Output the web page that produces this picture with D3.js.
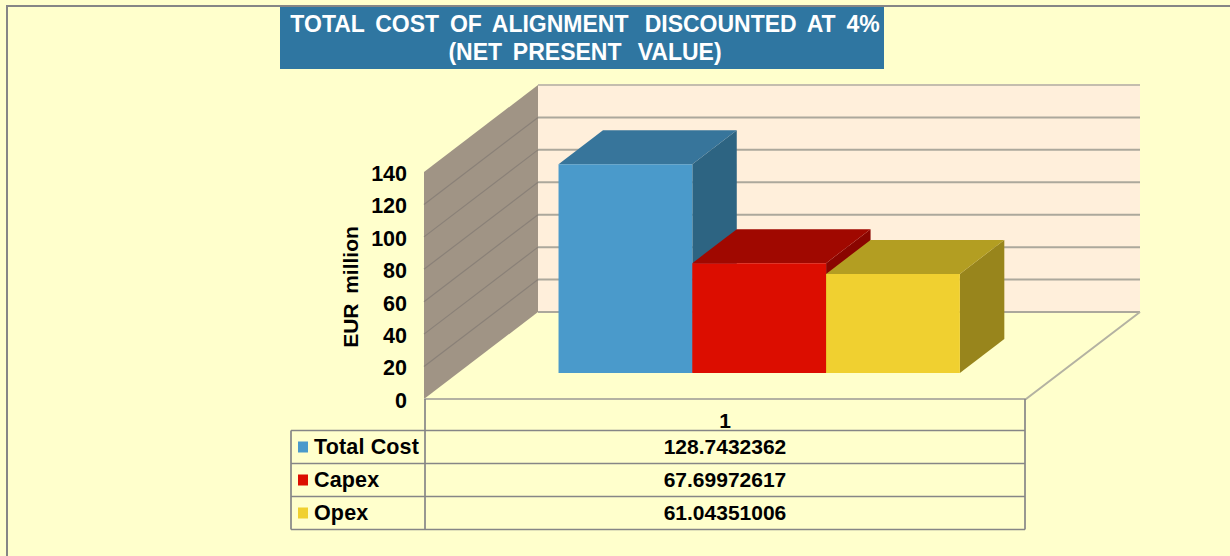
<!DOCTYPE html>
<html><head><meta charset="utf-8">
<script src="https://cdn.jsdelivr.net/npm/d3@7"></script>
<style>
html,body{margin:0;padding:0;background:#fff;overflow:hidden}
svg{display:block}
text{font-family:"Liberation Sans",Arial,sans-serif;font-weight:bold;fill:#000;white-space:pre}
</style></head><body>
<div id="chart"></div>
<script>
const titleLines = ["TOTAL  COST  OF  ALIGNMENT   DISCOUNTED  AT  4%", "(NET  PRESENT   VALUE)"];
const yAxisTitle = "EUR  million";
const categories = ["1"];
const seriesNames = ["Total Cost", "Capex", "Opex"];
const seriesValues = [128.7432362, 67.69972617, 61.04351006];
const valueLabels = ["128.7432362", "67.69972617", "61.04351006"];
const yTicks = [0, 20, 40, 60, 80, 100, 120, 140];
const frontColors = ["#4A9ACB", "#DC0D00", "#F0D030"];
const topColors = ["#37759B", "#A00800", "#B39E22"];
const sideColors = ["#2D6482", "#8A0500", "#98851C"];

const W = 1230, H = 556;
const svg = d3.select("#chart").append("svg").attr("width", W).attr("height", H);

const y = d3.scaleLinear().domain([0, 140]).range([399, 172]);
const xPlot = d3.scaleLinear().domain([0, 1]).range([424, 1026]);
const band = d3.scaleBand().domain(seriesNames).range([0, 1]).paddingInner(0).paddingOuter(0.75);
const depthX = d3.scaleLinear().domain([0, 1]).range([0, 114]);
const depthY = d3.scaleLinear().domain([0, 1]).range([0, -87]);
const proj = (fx, v, d) => [xPlot(fx) + depthX(d), y(v) + depthY(d)];
const poly = pts => "M" + pts.map(p => p.join(",")).join("L") + "Z";
const maxV = yTicks[yTicks.length - 1];
const barD0 = 0.3, barD1 = 0.69;

// background and outer frame (left and top edges only)
svg.append("rect").attr("width", W).attr("height", H).attr("fill", "#FFFFCC");
svg.append("path").attr("d", `M7,${H}V6H${W}`).attr("fill", "none").attr("stroke", "#868686").attr("stroke-width", 2);

// title banner
svg.append("rect").attr("x", 280).attr("y", 7).attr("width", 604).attr("height", 62).attr("fill", "#2F76A1");
svg.selectAll("text.title").data(titleLines).join("text").attr("class", "title")
  .attr("x", 585).attr("y", (d, i) => 32 + i * 28).attr("text-anchor", "middle")
  .attr("font-size", 23).style("fill", "#fff").style("word-spacing", "-1px").text(d => d);

// walls and floor
svg.append("path").attr("d", poly([proj(0, 0, 1), proj(1, 0, 1), proj(1, maxV, 1), proj(0, maxV, 1)])).attr("fill", "#FFEFDB");
svg.append("path").attr("d", poly([proj(0, 0, 0), proj(0, 0, 1), proj(0, maxV, 1), proj(0, maxV, 0)])).attr("fill", "#A09485");
svg.append("g").selectAll("line.back").data(yTicks).join("line")
  .attr("x1", proj(0, 0, 1)[0]).attr("x2", proj(1, 0, 1)[0])
  .attr("y1", d => proj(0, d, 1)[1]).attr("y2", d => proj(0, d, 1)[1])
  .attr("stroke", d => d === maxV ? "#C4BDAE" : "#ACA89C").attr("stroke-width", 2);
svg.append("g").selectAll("line.side").data(yTicks.slice(1, -1)).join("line")
  .attr("x1", proj(0, 0, 0)[0]).attr("x2", proj(0, 0, 1)[0])
  .attr("y1", d => proj(0, d, 0)[1]).attr("y2", d => proj(0, d, 1)[1])
  .attr("stroke", "#8A8178").attr("stroke-width", 1.2);
svg.append("path").attr("d", `M${proj(0, 0, 0)}L${proj(1, 0, 0)}L${proj(1, 0, 1)}`)
  .attr("fill", "none").attr("stroke", "#B4B2A2").attr("stroke-width", 2);

// 3-D bars
const bars = svg.append("g").selectAll("g").data(seriesNames).join("g");
bars.each(function (name, i) {
  const g = d3.select(this), v = seriesValues[i];
  const x0 = band(name), x1 = x0 + band.bandwidth();
  g.append("path").attr("fill", sideColors[i])
    .attr("d", poly([proj(x1, 0, barD0), proj(x1, 0, barD1), proj(x1, v, barD1), proj(x1, v, barD0)]));
  g.append("path").attr("fill", topColors[i])
    .attr("d", poly([proj(x0, v, barD0), proj(x1, v, barD0), proj(x1, v, barD1), proj(x0, v, barD1)]));
  g.append("path").attr("fill", frontColors[i])
    .attr("d", poly([proj(x0, 0, barD0), proj(x1, 0, barD0), proj(x1, v, barD0), proj(x0, v, barD0)]));
});

// y axis
const axis = svg.append("g").attr("transform", "translate(407,1.5)")
  .call(d3.axisLeft(y).tickValues(yTicks).tickSize(0).tickPadding(0));
axis.select(".domain").remove();
axis.selectAll("text").attr("font-size", 21.5).attr("font-family", null);
svg.append("text").attr("transform", "translate(358,287) rotate(-90)").attr("text-anchor", "middle")
  .attr("font-size", 21).style("word-spacing", "-1px").text(yAxisTitle);

// data table
const tableX = [291, 425, 1025];
const rowY = d3.scalePoint().domain(d3.range(4)).range([430.5, 529.5]);
const stroke = "#868686";
const tbl = svg.append("g").attr("stroke", stroke).attr("stroke-width", 1.7);
tbl.selectAll("line.h").data(d3.range(4)).join("line")
  .attr("x1", tableX[0]).attr("x2", tableX[2]).attr("y1", d => rowY(d)).attr("y2", d => rowY(d));
tbl.append("line").attr("x1", tableX[0]).attr("x2", tableX[0]).attr("y1", rowY(0)).attr("y2", rowY(3));
tbl.selectAll("line.v").data(tableX.slice(1)).join("line")
  .attr("x1", d => d).attr("x2", d => d).attr("y1", 399).attr("y2", rowY(3));

svg.selectAll("text.cat").data(categories).join("text").attr("class", "cat")
  .attr("x", 725).attr("y", 428).attr("text-anchor", "middle").attr("font-size", 21).text(d => d);
const rows = svg.append("g").selectAll("g").data(seriesNames).join("g")
  .attr("transform", (d, i) => `translate(0,${rowY(i)})`);
rows.append("rect").attr("x", 298).attr("y", 11).attr("width", 10).attr("height", 11).attr("fill", (d, i) => frontColors[i]);
rows.append("text").attr("x", 314).attr("y", 23.5).attr("font-size", 21.5).style("letter-spacing", "0.15px").text(d => d);
rows.append("text").attr("x", 725).attr("y", 23.5).attr("text-anchor", "middle").attr("font-size", 21).text((d, i) => valueLabels[i]);
</script>
</body></html>
